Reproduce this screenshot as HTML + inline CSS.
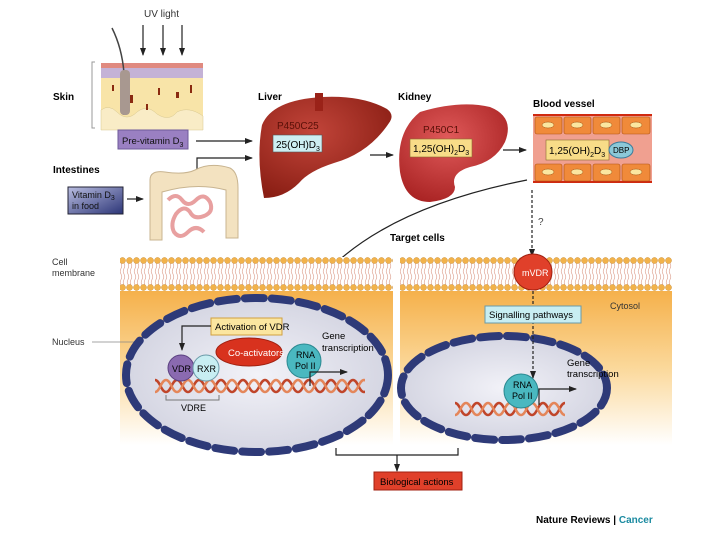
<!DOCTYPE html>
<html><head><meta charset="utf-8"><style>
body{margin:0;background:#fff}
svg{display:block}
text{font-family:"Liberation Sans",sans-serif}
</style></head><body>
<svg width="720" height="540" viewBox="0 0 720 540" xmlns="http://www.w3.org/2000/svg">
<defs>
<marker id="ar" markerWidth="8" markerHeight="8" refX="7" refY="4" orient="auto" markerUnits="userSpaceOnUse"><path d="M0,1 L8,4 L0,7 z" fill="#222"/></marker>
<pattern id="mem" x="0" y="257" width="7" height="34" patternUnits="userSpaceOnUse">
<rect width="7" height="34" fill="#fff"/>
<path d="M2,6 q1.5,3 0,5.5 q-1.5,3 0,5.5 q1.5,3 0,5.5 q-1.5,3 0,5.5 M5,6 q1.5,3 0,5.5 q-1.5,3 0,5.5 q1.5,3 0,5.5 q-1.5,3 0,5.5" stroke="#e0a898" stroke-width="0.7" fill="none"/>
<circle cx="3.5" cy="3.5" r="3" fill="#f2b24a" stroke="#c98a2a" stroke-width="0.5"/>
<circle cx="3.5" cy="30.5" r="3" fill="#f2b24a" stroke="#c98a2a" stroke-width="0.5"/>
</pattern>
<linearGradient id="cyt" x1="0" y1="0" x2="0" y2="1">
<stop offset="0" stop-color="#f5b04a"/><stop offset="0.5" stop-color="#fbd89a"/><stop offset="1" stop-color="#fff"/>
</linearGradient>
<radialGradient id="nuc" cx="0.5" cy="0.5" r="0.6"><stop offset="0" stop-color="#f2f2f8"/><stop offset="1" stop-color="#cfd0de"/></radialGradient>
<pattern id="dna1" x="155" y="378" width="22" height="16" patternUnits="userSpaceOnUse">
<path d="M0,2 C5,2 6,14 11,14 C16,14 17,2 22,2" stroke="#c0452a" stroke-width="2.5" fill="none"/>
<path d="M0,14 C5,14 6,2 11,2 C16,2 17,14 22,14" stroke="#e4865a" stroke-width="2.5" fill="none"/>
</pattern>
<pattern id="dna2" x="455" y="401" width="22" height="16" patternUnits="userSpaceOnUse">
<path d="M0,2 C5,2 6,14 11,14 C16,14 17,2 22,2" stroke="#c0452a" stroke-width="2.5" fill="none"/>
<path d="M0,14 C5,14 6,2 11,2 C16,2 17,14 22,14" stroke="#e4865a" stroke-width="2.5" fill="none"/>
</pattern>
<linearGradient id="food" x1="0" y1="0" x2="1" y2="1"><stop offset="0" stop-color="#b9bde0"/><stop offset="1" stop-color="#2c3577"/></linearGradient>
<radialGradient id="liv" cx="0.4" cy="0.35" r="0.7"><stop offset="0" stop-color="#c2453a"/><stop offset="1" stop-color="#8a1e14"/></radialGradient>
<radialGradient id="kid" cx="0.45" cy="0.35" r="0.7"><stop offset="0" stop-color="#e05a5a"/><stop offset="1" stop-color="#a82222"/></radialGradient>
</defs>

<!-- UV -->
<text x="144" y="17" font-size="10" fill="#333">UV light</text>
<g stroke="#222" stroke-width="1.2" marker-end="url(#ar)">
<line x1="143" y1="25" x2="143" y2="55"/><line x1="163" y1="25" x2="163" y2="55"/><line x1="182" y1="25" x2="182" y2="55"/>
</g>
<!-- skin -->
<path d="M95,62 L92,62 L92,128 L95,128" stroke="#999" fill="none"/>
<text x="53" y="100" font-size="10" font-weight="bold">Skin</text>
<rect x="101" y="63" width="102" height="67" fill="#f8e4a8"/>
<rect x="101" y="63" width="102" height="5" fill="#e08a80"/>
<rect x="101" y="68" width="102" height="10" fill="#c4b2d6"/>
<path d="M101,110 q8,-6 16,2 q10,10 20,0 q10,-8 20,2 q12,8 20,-2 q12,-6 26,4 L203,130 L101,130z" fill="#f9ecc6" stroke="#d8c890" stroke-width="0.5"/>
<g fill="#8a2a10"><rect x="112" y="85" width="2" height="6"/><rect x="130" y="95" width="3" height="8"/><rect x="158" y="88" width="2" height="7"/><rect x="176" y="92" width="3" height="6"/><rect x="190" y="85" width="2" height="8"/><rect x="146" y="104" width="2" height="6"/></g>
<path d="M112,28 q10,20 12,45 l0,42" stroke="#444" stroke-width="1.5" fill="none"/>
<rect x="120" y="70" width="10" height="45" rx="4" fill="#a89890"/>
<!-- pre-vitamin -->
<rect x="118" y="130" width="70" height="19" fill="#9a80c2" stroke="#6e5a9a"/>
<text x="122" y="144" font-size="9.5" fill="#111">Pre-vitamin D<tspan font-size="7" dy="3">3</tspan></text>
<line x1="196" y1="141" x2="252" y2="141" stroke="#222" stroke-width="1.2" marker-end="url(#ar)"/>
<path d="M197,172 L197,158 L252,158" stroke="#222" stroke-width="1.2" fill="none" marker-end="url(#ar)"/>
<!-- intestines -->
<text x="53" y="173" font-size="10" font-weight="bold">Intestines</text>
<rect x="68" y="187" width="55" height="27" fill="url(#food)" stroke="#223"/>
<text x="72" y="198" font-size="9" fill="#111">Vitamin D<tspan font-size="7" dy="2">3</tspan></text>
<text x="72" y="209" font-size="9" fill="#111">in food</text>
<line x1="127" y1="199" x2="143" y2="199" stroke="#222" stroke-width="1.2" marker-end="url(#ar)"/>
<path d="M150,240 L150,180 q0,-10 15,-8 q20,3 30,-2 q15,-8 35,-2 q8,4 8,20 L238,238 L226,238 L226,190 q-30,-8 -64,2 L162,240z" fill="#f3e2c0" stroke="#c8b490"/>
<path d="M168,200 q8,-8 14,0 q6,8 14,0 q8,-8 14,2 q4,10 -6,14 q-10,4 -14,-4 q-6,-8 -14,2 q-6,10 -2,18 q6,8 14,0 q8,-8 16,0" stroke="#e8a0a0" stroke-width="4" fill="none"/>
<!-- liver -->
<text x="258" y="100" font-size="10" font-weight="bold">Liver</text>
<path d="M262,125 q10,-25 60,-28 q40,-2 65,12 q8,6 2,14 q-20,30 -55,40 q-25,8 -35,20 q-15,15 -35,15 q-8,-40 -2,-73z" fill="url(#liv)"/>
<rect x="315" y="93" width="8" height="18" fill="#9a2218"/>
<rect x="273" y="135" width="49" height="17" fill="#cdeef2" stroke="#555" stroke-width="0.6"/>
<text x="277" y="129" font-size="10" fill="#5a1008">P450C25</text>
<text x="276" y="148" font-size="10">25(OH)D<tspan font-size="7" dy="3">3</tspan></text>
<line x1="370" y1="155" x2="393" y2="155" stroke="#222" stroke-width="1.2" marker-end="url(#ar)"/>
<!-- kidney -->
<text x="398" y="100" font-size="10" font-weight="bold">Kidney</text>
<path d="M420,112 q40,-12 70,-5 q25,10 15,35 q-10,20 -35,25 q-20,6 -15,20 q0,12 -25,15 q-25,0 -30,-30 q-5,-40 20,-60z" fill="url(#kid)"/>
<rect x="410" y="139" width="62" height="18" fill="#f8dc88" stroke="#8a6a30" stroke-width="0.6"/>
<text x="423" y="133" font-size="10" fill="#5a1008">P450C1</text>
<text x="413" y="152" font-size="10">1,25(OH)<tspan font-size="7" dy="3">2</tspan><tspan dy="-3">D</tspan><tspan font-size="7" dy="3">3</tspan></text>
<line x1="503" y1="150" x2="526" y2="150" stroke="#222" stroke-width="1.2" marker-end="url(#ar)"/>
<!-- blood vessel -->
<text x="533" y="107" font-size="10" font-weight="bold">Blood vessel</text>
<rect x="533" y="114" width="119" height="69" fill="#f0a090"/>
<rect x="533" y="114" width="119" height="2" fill="#d02a10"/>
<rect x="533" y="181" width="119" height="2" fill="#d02a10"/>
<g fill="#f08a3a" stroke="#b05010" stroke-width="0.6">
<rect x="535" y="117" width="27" height="17" rx="2"/><rect x="564" y="117" width="27" height="17" rx="2"/><rect x="593" y="117" width="27" height="17" rx="2"/><rect x="622" y="117" width="28" height="17" rx="2"/>
<rect x="535" y="164" width="27" height="17" rx="2"/><rect x="564" y="164" width="27" height="17" rx="2"/><rect x="593" y="164" width="27" height="17" rx="2"/><rect x="622" y="164" width="28" height="17" rx="2"/>
</g>
<g fill="#fbe6a0" stroke="#a05010" stroke-width="0.5">
<ellipse cx="548" cy="125" rx="6" ry="3"/><ellipse cx="577" cy="125" rx="6" ry="3"/><ellipse cx="606" cy="125" rx="6" ry="3"/><ellipse cx="636" cy="125" rx="6" ry="3"/>
<ellipse cx="548" cy="172" rx="6" ry="3"/><ellipse cx="577" cy="172" rx="6" ry="3"/><ellipse cx="606" cy="172" rx="6" ry="3"/><ellipse cx="636" cy="172" rx="6" ry="3"/>
</g>
<rect x="546" y="140" width="63" height="20" fill="#f8dc88" stroke="#8a6a30" stroke-width="0.6"/>
<text x="549" y="154" font-size="10">1,25(OH)<tspan font-size="7" dy="3">2</tspan><tspan dy="-3">D</tspan><tspan font-size="7" dy="3">3</tspan></text>
<ellipse cx="621" cy="150" rx="12" ry="8" fill="#8cc8d8" stroke="#3a7a9a"/>
<text x="613" y="153" font-size="8">DBP</text>
<!-- connectors -->
<path d="M527,180 Q350,215 297,312" stroke="#222" stroke-width="1.2" fill="none" marker-end="url(#ar)"/>
<text x="390" y="241" font-size="10" font-weight="bold">Target cells</text>
<line x1="532" y1="190" x2="532" y2="256" stroke="#222" stroke-width="1.2" stroke-dasharray="3,2" marker-end="url(#ar)"/>
<text x="538" y="225" font-size="10" fill="#444">?</text>
<!-- cells -->
<rect x="120" y="290" width="273" height="155" fill="url(#cyt)"/>
<rect x="400" y="290" width="272" height="155" fill="url(#cyt)"/>
<rect x="120" y="257" width="273" height="34" fill="url(#mem)"/>
<rect x="400" y="257" width="272" height="34" fill="url(#mem)"/>
<text x="52" y="265" font-size="9" fill="#333">Cell</text>
<text x="52" y="276" font-size="9" fill="#333">membrane</text>
<text x="52" y="345" font-size="9" fill="#333">Nucleus</text>
<line x1="92" y1="342" x2="145" y2="342" stroke="#888" stroke-width="0.7"/>
<text x="610" y="309" font-size="9" fill="#333">Cytosol</text>
<!-- left nucleus -->
<ellipse cx="257" cy="375" rx="131" ry="77" fill="url(#nuc)" stroke="#8a8ea8"/>
<ellipse cx="257" cy="375" rx="131" ry="77" fill="none" stroke="#2e3a78" stroke-width="8" stroke-dasharray="19,8" stroke-linecap="round"/>
<rect x="155" y="378" width="210" height="16" fill="url(#dna1)"/>
<rect x="211" y="318" width="71" height="17" fill="#fbe6a0" stroke="#d0a040"/>
<text x="215" y="330" font-size="9.5">Activation of VDR</text>
<path d="M211,326 L182,326 L182,350" stroke="#222" stroke-width="1.2" fill="none" marker-end="url(#ar)"/>
<ellipse cx="249" cy="352" rx="33" ry="14" fill="#d8321e" stroke="#a02010"/>
<text x="228" y="356" font-size="9.5" fill="#fff">Co-activators</text>
<circle cx="181" cy="368" r="13" fill="#8a6ab0" stroke="#5a4080"/>
<text x="172" y="372" font-size="9">VDR</text>
<circle cx="206" cy="368" r="13" fill="#c8eef2" stroke="#6a9aa8"/>
<text x="197" y="372" font-size="9">RXR</text>
<circle cx="304" cy="361" r="17" fill="#4ab8c0" stroke="#2a8890"/>
<text x="296" y="358" font-size="9">RNA</text>
<text x="295" y="369" font-size="9">Pol II</text>
<text x="322" y="339" font-size="9.5">Gene</text>
<text x="322" y="351" font-size="9.5">transcription</text>
<path d="M310,386 L310,372 L347,372" stroke="#222" stroke-width="1.2" fill="none" marker-end="url(#ar)"/>
<path d="M166,395 L166,400 L219,400 L219,395" stroke="#777" fill="none"/>
<text x="181" y="411" font-size="9">VDRE</text>
<!-- right nucleus -->
<ellipse cx="504" cy="388" rx="103" ry="52" fill="url(#nuc)" stroke="#8a8ea8"/>
<ellipse cx="504" cy="388" rx="103" ry="52" fill="none" stroke="#2e3a78" stroke-width="8" stroke-dasharray="19,8" stroke-linecap="round"/>
<rect x="455" y="401" width="110" height="16" fill="url(#dna2)"/>
<ellipse cx="533" cy="272" rx="19" ry="18" fill="#e0402a" stroke="#a02010"/>
<text x="522" y="276" font-size="9" fill="#fff">mVDR</text>
<line x1="533" y1="291" x2="533" y2="378" stroke="#222" stroke-width="1.2" stroke-dasharray="3,2" marker-end="url(#ar)"/>
<rect x="485" y="306" width="96" height="17" fill="#c8eef2" stroke="#6a9aa8"/>
<text x="489" y="318" font-size="9.5">Signalling pathways</text>
<circle cx="521" cy="391" r="17" fill="#4ab8c0" stroke="#2a8890"/>
<text x="513" y="388" font-size="9">RNA</text>
<text x="512" y="399" font-size="9">Pol II</text>
<text x="567" y="366" font-size="9.5">Gene</text>
<text x="567" y="377" font-size="9.5">transcription</text>
<path d="M539,405 L539,389 L576,389" stroke="#222" stroke-width="1.2" fill="none" marker-end="url(#ar)"/>
<!-- bottom -->
<path d="M336,448 L336,455 L458,455 L458,448" stroke="#222" stroke-width="1.2" fill="none"/>
<line x1="397" y1="455" x2="397" y2="471" stroke="#222" stroke-width="1.2" marker-end="url(#ar)"/>
<rect x="374" y="472" width="88" height="18" fill="#e0402a" stroke="#a02010"/>
<text x="380" y="485" font-size="9.5">Biological actions</text>
<text x="536" y="523" font-size="10" font-weight="bold">Nature Reviews | <tspan fill="#1a8aa0">Cancer</tspan></text>
</svg>
</body></html>
